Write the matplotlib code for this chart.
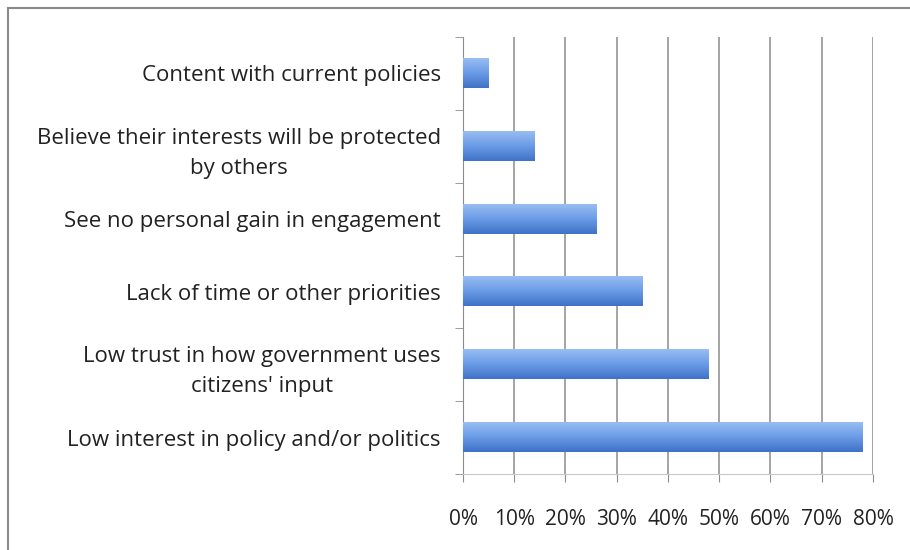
import matplotlib.pyplot as plt
import numpy as np
from matplotlib.patches import Rectangle
from matplotlib.ticker import PercentFormatter

# reasons for not engaging, bottom to top
reasons = ['Low interest in policy and/or politics',
           "Low trust in how government uses\ncitizens' input",
           'Lack of time or other priorities',
           'See no personal gain in engagement',
           'Believe their interests will be protected\nby others',
           'Content with current policies']
shares = [78, 48, 35, 26, 14, 5]
ticks = [0, 10, 20, 30, 40, 50, 60, 70, 80]

plt.rcParams['font.family'] = ['Open Sans', 'DejaVu Sans']

fig = plt.figure(figsize=(9.1, 5.5), dpi=100)
ax = fig.add_axes([0.5088, 0.1382, 0.4505, 0.7945])

# outer frame of the chart (top and left edges visible)
fig.patches.append(Rectangle((0.009, -0.1), 1.2, 1.085, transform=fig.transFigure,
                             fill=False, edgecolor='#8a8a8a', linewidth=1.5))

y = np.arange(len(reasons))
bars = ax.barh(y, shares, height=0.4, color='#5b8ee0', zorder=3)

# vertical gradient inside each bar
grad = np.linspace(0, 1, 64).reshape(-1, 1)
cmap = plt.matplotlib.colors.LinearSegmentedColormap.from_list('b', ['#3f72c8', '#6a9be6', '#98bdf2'])
for b in bars:
    x0, y0 = b.get_x(), b.get_y()
    w, h = b.get_width(), b.get_height()
    ax.imshow(grad, extent=(x0, x0 + w, y0, y0 + h), origin='lower', cmap=cmap,
              aspect='auto', zorder=4)
    b.set_alpha(0)

ax.set_xlim(0, 80)
ax.set_ylim(-0.5, len(reasons) - 0.5)
ax.set_xticks(ticks)
ax.xaxis.set_major_formatter(PercentFormatter(decimals=0))
ax.set_yticks(y)
ax.set_yticklabels(reasons, ha='right', multialignment='center', linespacing=1.55)
ax.set_yticks(np.arange(len(reasons) + 1) - 0.5, minor=True)

ax.grid(axis='x', color='#8c8c8c', linewidth=1.1, zorder=1)
for s in ['top', 'right']:
    ax.spines[s].set_visible(False)
ax.spines['left'].set_color('#8c8c8c')
ax.spines['bottom'].set_color('#c8c8c8')

ax.tick_params(axis='y', which='major', length=0, pad=16, labelsize=16, labelcolor='#222222')
ax.tick_params(axis='y', which='minor', length=6, color='#8c8c8c')
ax.tick_params(axis='x', length=6, color='#8c8c8c', pad=19, labelsize=15, labelcolor='#222222')

fig.savefig('out.png', dpi=100)
